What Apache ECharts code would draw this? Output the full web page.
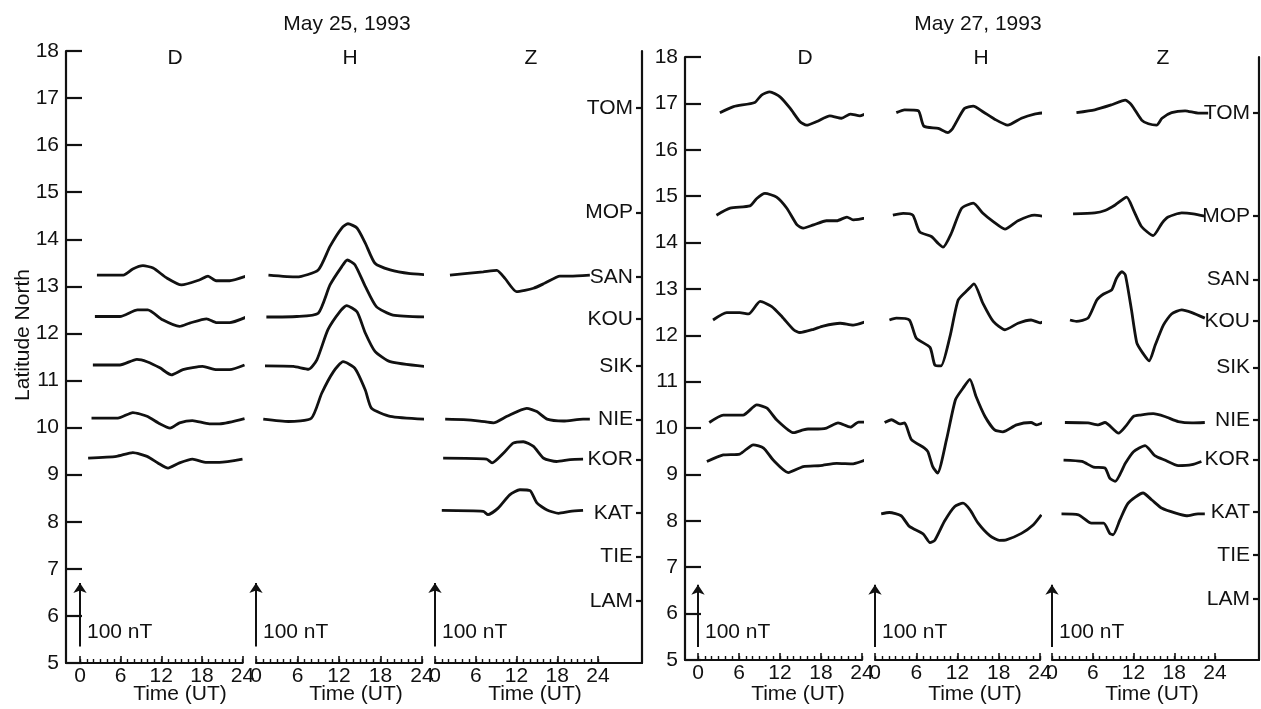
<!DOCTYPE html>
<html>
<head>
<meta charset="utf-8">
<title>Magnetometer traces, May 1993</title>
<script src="https://cdn.jsdelivr.net/npm/echarts@6/dist/echarts.min.js"></script>
<style>
  html, body { margin: 0; padding: 0; background: #fff; }
  #chart { width: 1261px; height: 709px; }
</style>
</head>
<body>
<div id="chart"></div>
<script>
// station ticks on the right-hand axis of each day (latitude north, deg)
var stations = ['TOM', 'MOP', 'SAN', 'KOU', 'SIK', 'NIE', 'KOR', 'KAT', 'TIE', 'LAM'];
var stationLat = [16.79, 14.57, 13.2, 12.31, 11.31, 10.17, 9.32, 8.19, 7.26, 6.32];

var latMin = 5, latMax = 18;
var timeLabels = [0, 6, 12, 18, 24];
var hourTicks = [0, 1, 2, 3, 4, 5, 6, 7, 8, 9, 10, 11, 12, 13, 14, 15, 16, 17, 18, 19, 20, 21, 22, 23, 24];

// 100 nT scale bar, in latitude units of the plot
var scaleBar25 = [5.35, 6.7];
var scaleBar27 = [5.28, 6.62];

// traces: [UT hour, position on the latitude axis]
// May 25, D
var may25_D_SAN = [[2.5,13.24],[6.4,13.24],[7.8,13.37],[9.3,13.44],[10.8,13.39],[12.8,13.18],[15.0,13.03],[17.7,13.14],[18.9,13.22],[20.1,13.12],[22.1,13.12],[25.0,13.24]];
var may25_D_KOU = [[2.2,12.36],[5.9,12.36],[8.5,12.5],[10.0,12.5],[12.2,12.29],[14.7,12.15],[16.2,12.22],[18.7,12.31],[20.2,12.23],[22.1,12.23],[24.6,12.35]];
var may25_D_SIK = [[1.9,11.33],[5.9,11.33],[8.4,11.45],[9.9,11.4],[11.8,11.27],[13.5,11.12],[15.2,11.23],[18.1,11.3],[20.2,11.23],[22.1,11.23],[24.3,11.33]];
var may25_D_NIE = [[1.7,10.2],[5.6,10.2],[7.8,10.32],[9.9,10.24],[11.8,10.08],[13.3,9.99],[14.7,10.1],[16.6,10.15],[19.1,10.08],[20.6,10.08],[24.3,10.19]];
var may25_D_KOR = [[1.2,9.35],[5.4,9.39],[7.8,9.47],[9.9,9.39],[11.5,9.25],[13.0,9.14],[14.7,9.25],[16.6,9.33],[18.7,9.26],[20.6,9.26],[24.0,9.33]];
// May 25, H
var may25_H_SAN = [[1.8,13.24],[5.9,13.2],[9.0,13.35],[10.7,13.85],[12.4,14.24],[13.3,14.33],[14.6,14.24],[15.8,13.92],[17.2,13.49],[19.4,13.35],[22.3,13.27],[25.1,13.24]];
var may25_H_KOU = [[1.5,12.35],[5.9,12.36],[9.0,12.43],[10.7,13.03],[12.4,13.42],[13.2,13.56],[14.3,13.46],[15.8,13.0],[17.4,12.57],[19.8,12.39],[24.9,12.35]];
var may25_H_SIK = [[1.3,11.31],[5.4,11.3],[7.6,11.24],[8.8,11.44],[10.4,12.08],[12.1,12.46],[13.1,12.59],[14.6,12.46],[15.8,12.01],[17.2,11.62],[19.4,11.4],[24.4,11.3]];
var may25_H_NIE = [[1.05,10.18],[4.7,10.13],[8.0,10.2],[9.5,10.73],[11.2,11.19],[12.6,11.4],[14.3,11.26],[15.8,10.8],[16.7,10.41],[19.4,10.24],[24.4,10.18]];
// May 25, Z
var may25_Z_SAN = [[2.2,13.24],[7.1,13.31],[9.1,13.34],[10.3,13.17],[12.0,12.89],[14.5,12.96],[16.2,13.07],[18.4,13.22],[19.9,13.22],[22.8,13.24]];
var may25_Z_NIE = [[1.5,10.18],[4.2,10.17],[6.6,10.14],[8.6,10.1],[10.6,10.24],[13.5,10.41],[15.0,10.34],[16.5,10.18],[18.9,10.14],[21.8,10.18],[22.8,10.18]];
var may25_Z_KOR = [[1.2,9.35],[7.6,9.33],[8.4,9.25],[10.1,9.46],[11.5,9.67],[13.0,9.7],[14.5,9.6],[16.0,9.35],[17.9,9.28],[19.9,9.32],[21.8,9.33]];
var may25_Z_KAT = [[1.0,8.24],[7.1,8.22],[7.8,8.15],[9.3,8.29],[11.0,8.57],[12.5,8.68],[14.0,8.66],[15.0,8.4],[16.5,8.25],[18.2,8.18],[19.9,8.22],[21.8,8.24]];
// May 27, D
var may27_D_TOM = [[3.2,16.8],[5.2,16.93],[8.3,17.02],[9.3,17.18],[10.5,17.25],[12.0,17.14],[13.5,16.89],[14.9,16.61],[15.9,16.53],[17.4,16.61],[19.3,16.73],[21.0,16.68],[22.3,16.77],[23.7,16.73],[25.4,16.82],[26.2,16.82]];
var may27_D_MOP = [[2.7,14.59],[4.7,14.74],[7.6,14.79],[8.6,14.95],[9.8,15.06],[11.5,14.98],[13.0,14.74],[14.5,14.38],[15.4,14.31],[16.9,14.38],[18.8,14.47],[20.3,14.47],[21.8,14.55],[22.7,14.49],[24.2,14.52],[25.7,14.63]];
var may27_D_KOU = [[2.2,12.33],[4.2,12.49],[6.1,12.49],[7.4,12.46],[9.1,12.73],[10.8,12.62],[12.3,12.4],[14.0,12.12],[14.9,12.06],[16.9,12.13],[18.3,12.2],[20.8,12.26],[22.7,12.22],[25.2,12.33]];
var may27_D_NIE = [[1.65,10.12],[3.7,10.28],[6.6,10.28],[8.6,10.5],[10.1,10.43],[11.5,10.18],[14.0,9.9],[15.4,9.96],[16.1,9.98],[16.9,9.98],[18.8,10.0],[20.5,10.11],[22.3,10.02],[23.5,10.13],[24.5,10.13]];
var may27_D_KOR = [[1.3,9.28],[3.7,9.42],[6.1,9.44],[8.1,9.64],[9.6,9.57],[11.0,9.31],[13.2,9.04],[15.4,9.17],[17.9,9.19],[20.3,9.24],[22.7,9.23],[24.5,9.31]];
// May 27, H
var may27_H_TOM = [[3.1,16.8],[4.3,16.86],[6.3,16.84],[7.1,16.51],[9.2,16.46],[10.6,16.37],[11.3,16.46],[13.0,16.89],[14.3,16.94],[15.7,16.82],[17.4,16.66],[19.3,16.53],[21.3,16.68],[23.2,16.77],[24.7,16.8]];
var may27_H_MOP = [[2.6,14.59],[4.1,14.63],[5.5,14.59],[6.5,14.23],[8.2,14.13],[9.2,13.98],[9.9,13.9],[11.1,14.2],[12.6,14.74],[14.3,14.85],[15.7,14.63],[17.2,14.45],[18.9,14.29],[20.8,14.47],[23.2,14.59],[24.7,14.56]];
var may27_H_KOU = [[2.1,12.33],[3.1,12.37],[5.0,12.33],[6.0,11.94],[8.0,11.74],[8.7,11.36],[9.6,11.34],[10.9,11.97],[12.1,12.76],[13.5,12.98],[14.4,13.11],[15.7,12.69],[17.2,12.3],[18.9,12.12],[20.8,12.26],[22.7,12.33],[24.0,12.27],[24.9,12.33]];
var may27_H_NIE = [[1.4,10.12],[2.4,10.18],[3.6,10.09],[4.3,10.11],[5.3,9.75],[7.2,9.57],[7.7,9.49],[8.4,9.17],[9.1,9.03],[10.4,9.75],[11.7,10.61],[12.8,10.86],[13.8,11.05],[14.7,10.68],[16.0,10.25],[17.4,9.96],[18.6,9.92],[20.6,10.07],[22.7,10.12],[23.5,10.07],[24.7,10.14]];
var may27_H_KAT = [[0.9,8.15],[2.1,8.18],[3.8,8.11],[5.0,7.88],[7.0,7.72],[8.0,7.53],[8.7,7.58],[10.1,7.99],[11.6,8.31],[12.8,8.38],[13.8,8.24],[15.0,7.95],[16.7,7.68],[18.1,7.58],[19.1,7.59],[21.3,7.73],[23.0,7.91],[24.2,8.13]];
// May 27, Z
var may27_Z_TOM = [[3.6,16.8],[6.3,16.86],[8.8,16.97],[10.8,17.07],[11.7,16.97],[13.2,16.64],[14.2,16.56],[15.4,16.53],[16.2,16.68],[17.6,16.8],[19.6,16.84],[21.5,16.79],[23.0,16.79]];
var may27_Z_MOP = [[3.1,14.62],[6.3,14.64],[7.8,14.69],[9.3,14.81],[11.0,14.98],[12.0,14.7],[13.2,14.34],[14.9,14.15],[16.2,14.42],[17.1,14.55],[19.1,14.64],[20.8,14.62],[22.5,14.57]];
var may27_Z_KOU = [[2.65,12.33],[3.6,12.3],[5.3,12.37],[6.6,12.76],[7.6,12.89],[8.8,12.98],[9.5,13.23],[10.3,13.37],[10.8,13.3],[11.7,12.55],[12.5,11.83],[13.4,11.61],[14.3,11.45],[15.2,11.79],[16.4,12.22],[17.6,12.46],[19.1,12.55],[20.6,12.49],[22.5,12.37]];
var may27_Z_NIE = [[1.9,10.12],[5.3,10.11],[6.8,10.07],[7.8,10.12],[9.8,9.89],[10.8,10.03],[12.0,10.25],[13.0,10.28],[14.9,10.31],[16.6,10.25],[18.6,10.14],[20.6,10.11],[22.5,10.12]];
var may27_Z_KOR = [[1.7,9.31],[4.4,9.28],[6.1,9.16],[7.8,9.14],[8.5,8.92],[9.3,8.85],[10.8,9.24],[12.0,9.49],[13.7,9.62],[15.2,9.4],[16.6,9.31],[18.6,9.19],[20.6,9.21],[22.0,9.28]];
var may27_Z_KAT = [[1.4,8.15],[3.9,8.13],[5.8,7.95],[7.6,7.95],[8.5,7.73],[9.0,7.7],[10.0,8.02],[11.2,8.38],[13.4,8.6],[14.7,8.45],[16.2,8.27],[18.1,8.17],[19.8,8.11],[21.5,8.15],[22.5,8.15]];

var FONT = '"Liberation Sans", Arial, sans-serif';
var FS = 21;
var INK = '#111';

// page layout in pixels: x0/x24 are where 0 h and 24 h sit on each little time axis
var days = [
  { title: 'May 25, 1993', titleX: 347, top: 51, bottom: 663, axisL: 66, axisR: 642, scale: scaleBar25,
    comps: [
      { name: 'D', x0: 80, x24: 242.5, letterX: 175, traces: [may25_D_SAN, may25_D_KOU, may25_D_SIK, may25_D_NIE, may25_D_KOR] },
      { name: 'H', x0: 256, x24: 422, letterX: 350, traces: [may25_H_SAN, may25_H_KOU, may25_H_SIK, may25_H_NIE] },
      { name: 'Z', x0: 435, x24: 598, letterX: 531, traces: [may25_Z_SAN, may25_Z_NIE, may25_Z_KOR, may25_Z_KAT] }
    ] },
  { title: 'May 27, 1993', titleX: 978, top: 57, bottom: 660, axisL: 685, axisR: 1259, scale: scaleBar27,
    comps: [
      { name: 'D', x0: 698, x24: 862, letterX: 805, traces: [may27_D_TOM, may27_D_MOP, may27_D_KOU, may27_D_NIE, may27_D_KOR] },
      { name: 'H', x0: 875, x24: 1040, letterX: 981, traces: [may27_H_TOM, may27_H_MOP, may27_H_KOU, may27_H_NIE, may27_H_KAT] },
      { name: 'Z', x0: 1052, x24: 1215, letterX: 1163, traces: [may27_Z_TOM, may27_Z_MOP, may27_Z_KOU, may27_Z_NIE, may27_Z_KOR, may27_Z_KAT] }
    ] }
];

var grid = [], xAxis = [], yAxis = [], series = [], graphic = [];

function addText(str, x, y, align) {
  graphic.push({
    type: 'text', x: x, y: y, silent: true,
    style: { text: str, fill: INK, font: FS + 'px ' + FONT, align: align || 'center', verticalAlign: 'middle' }
  });
}

days.forEach(function (day) {
  var h = day.bottom - day.top;
  var g = grid.length;
  grid.push({ left: day.axisL, top: day.top, width: day.axisR - day.axisL, height: h, containLabel: false, outerBoundsMode: 'none' });
  xAxis.push({ gridIndex: g, type: 'value', show: false, min: 0, max: 1 });
  yAxis.push({
    gridIndex: g, type: 'value', position: 'left', min: latMin, max: latMax, interval: 1,
    axisLine: { show: true, lineStyle: { color: INK, width: 2.2 } },
    axisTick: { show: true, inside: true, length: 16, lineStyle: { color: INK, width: 2.2 } },
    axisLabel: { color: INK, fontSize: FS, fontFamily: FONT, margin: 7 },
    splitLine: { show: false }
  });
  yAxis.push({
    gridIndex: g, type: 'value', position: 'right', min: latMin, max: latMax,
    axisLine: { show: true, lineStyle: { color: INK, width: 2.2 } },
    axisTick: { show: true, inside: true, length: 6, customValues: stationLat, lineStyle: { color: INK, width: 2.2 } },
    axisLabel: {
      inside: true, margin: 9, color: INK, fontSize: FS, fontFamily: FONT, customValues: stationLat,
      formatter: function (v) {
        var best = 0;
        stationLat.forEach(function (s, i) { if (Math.abs(s - v) < Math.abs(stationLat[best] - v)) best = i; });
        return stations[best];
      }
    },
    splitLine: { show: false }
  });

  addText(day.title, day.titleX, 24);

  day.comps.forEach(function (c, i) {
    var pxh = (c.x24 - c.x0) / 24;
    var left = i === 0 ? day.axisL : c.x0;
    var right = i === day.comps.length - 1 ? day.axisR : c.x24;
    var gi = grid.length;
    grid.push({ left: left, top: day.top, width: right - left, height: h, containLabel: false, outerBoundsMode: 'none' });
    var xi = xAxis.length;
    var range = { min: (left - c.x0) / pxh, max: (right - c.x0) / pxh };
    xAxis.push({
      gridIndex: gi, type: 'value', position: 'bottom', min: range.min, max: range.max,
      axisLine: { show: true, lineStyle: { color: INK, width: 2.2 } },
      axisTick: { show: true, inside: true, length: 7, customValues: timeLabels, lineStyle: { color: INK, width: 1.6 } },
      axisLabel: { customValues: timeLabels, color: INK, fontSize: FS, fontFamily: FONT, margin: 3 },
      splitLine: { show: false }
    });
    xAxis.push({
      gridIndex: gi, type: 'value', position: 'bottom', min: range.min, max: range.max,
      axisLine: { show: false },
      axisTick: { show: true, inside: true, length: 4, customValues: hourTicks, lineStyle: { color: INK, width: 1.4 } },
      axisLabel: { show: false },
      splitLine: { show: false }
    });
    var yi = yAxis.length;
    yAxis.push({ gridIndex: gi, type: 'value', show: false, min: latMin, max: latMax });

    c.traces.forEach(function (tr, k) {
      var s = {
        type: 'line', xAxisIndex: xi, yAxisIndex: yi, data: tr,
        showSymbol: false, smooth: 0.2, clip: false, silent: true,
        lineStyle: { color: INK, width: 2.8 }
      };
      if (k === 0) {
        // 100 nT scale arrow at 0 UT
        s.markLine = {
          silent: true, symbol: ['none', 'arrow'], symbolSize: 10,
          lineStyle: { type: 'solid', color: INK, width: 2 },
          label: { show: false },
          data: [[{ coord: [0, day.scale[0]] }, { coord: [0, day.scale[1]] }]]
        };
      }
      series.push(s);
    });

    addText(c.name, c.letterX, 58);
    addText('100 nT', c.x0 + 7, 632, 'left');
    addText('Time (UT)', c.x0 + 100, 694);
  });
});

graphic.push({
  type: 'text', x: 23, y: 335, rotation: Math.PI / 2, silent: true,
  style: { text: 'Latitude North', fill: INK, font: FS + 'px ' + FONT, align: 'center', verticalAlign: 'middle' }
});

var chart = echarts.init(document.getElementById('chart'));
chart.setOption({
  backgroundColor: '#fff',
  animation: false,
  grid: grid,
  xAxis: xAxis,
  yAxis: yAxis,
  series: series,
  graphic: graphic
});
</script>
</body>
</html>
